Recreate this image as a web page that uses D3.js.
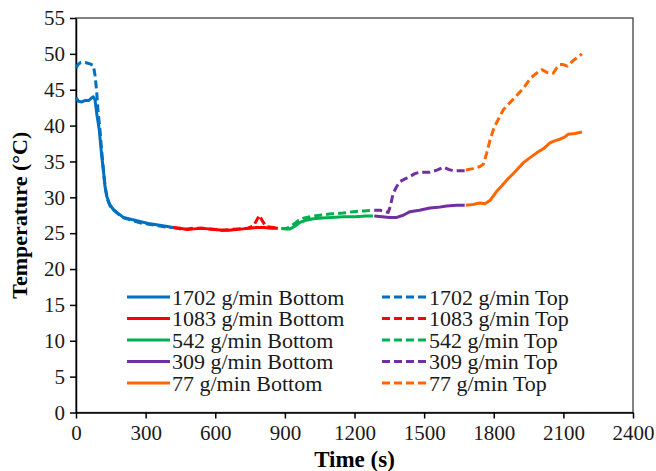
<!DOCTYPE html>
<html lang="en">
<head>
    <meta charset="UTF-8">
    <title>Temperature vs Time</title>
    <script src="https://cdn.jsdelivr.net/npm/d3@7"></script>
    <style>
        body { margin: 0; background: #fff; }
        text { font-family: "Liberation Serif", "Times New Roman", serif; }
    </style>
</head>
<body>
<script>
    // flow rates and colours
    var rates = ["1702", "1083", "542", "309", "77"];
    var colors = ["#0070C0", "#FF0000", "#00B050", "#7030A0", "#FF6600"];

    var xTicks = [0, 300, 600, 900, 1200, 1500, 1800, 2100, 2400];
    var yTicks = [0, 5, 10, 15, 20, 25, 30, 35, 40, 45, 50, 55];

    // [time (s), temperature (°C)]
    var bottom1702 = [[0,43.9],[10,43.4],[25,43.3],[40,43.5],[55,43.5],[65,43.8],[75,44.0],[82,43.6],[90,41.5],[100,39.5],[110,36],[118,33.8],[125,31.5],[132,30.2],[145,29],[161,28.3],[180,27.8],[204,27.2],[240,26.9],[280,26.6],[320,26.3],[360,26.1],[400,25.9],[418,25.8]];
    var top1702 = [[0,48],[8,48.5],[20,48.8],[40,48.8],[60,48.6],[75,48.4],[82,47],[89,44.8],[95,42],[103,39.5],[112,36],[120,33],[128,31],[138,29.5],[150,28.6],[170,28],[200,27.2],[240,26.8],[280,26.4],[320,26.2],[360,26.0],[400,25.8],[418,25.8]];
    var bottom1083 = [[418,25.8],[450,25.7],[480,25.5],[510,25.6],[540,25.7],[570,25.6],[600,25.5],[630,25.4],[660,25.4],[690,25.5],[720,25.6],[750,25.7],[780,25.8],[810,25.8],[840,25.7],[870,25.7]];
    var top1083 = [[418,25.8],[450,25.6],[480,25.6],[510,25.7],[540,25.7],[570,25.6],[600,25.5],[630,25.4],[660,25.5],[700,25.6],[740,25.7],[765,26.0],[790,27.5],[805,26.6],[820,25.9],[850,25.8],[870,25.7]];
    var bottom542 = [[885,25.7],[900,25.6],[922,25.6],[945,26.0],[965,26.5],[990,26.8],[1022,27.0],[1060,27.1],[1100,27.2],[1150,27.3],[1200,27.3],[1250,27.4],[1280,27.4]];
    var top542 = [[885,25.6],[910,25.7],[940,26.3],[960,26.8],[980,27.1],[1010,27.3],[1051,27.5],[1100,27.7],[1150,27.8],[1195,28.0],[1240,28.1],[1280,28.2]];
    var bottom309 = [[1285,27.4],[1320,27.3],[1350,27.2],[1382,27.2],[1410,27.5],[1439,28.0],[1480,28.2],[1525,28.5],[1560,28.6],[1597,28.8],[1640,28.9],[1675,28.9]];
    var top309 = [[1285,28.2],[1310,28.2],[1330,28.0],[1345,27.9],[1355,28.8],[1366,30.5],[1380,31.4],[1396,32.2],[1420,32.6],[1439,32.9],[1460,33.3],[1482,33.5],[1525,33.5],[1555,33.8],[1583,34.2],[1605,33.9],[1626,33.7],[1675,33.7]];
    var bottom77 = [[1680,28.9],[1710,29.0],[1741,29.2],[1762,29.1],[1785,29.6],[1812,30.8],[1835,31.6],[1856,32.4],[1890,33.5],[1927,34.8],[1955,35.5],[1985,36.2],[2015,36.8],[2042,37.6],[2065,37.9],[2085,38.1],[2105,38.4],[2121,38.8],[2150,38.9],[2180,39.1]];
    var top77 = [[1680,33.8],[1710,34.0],[1741,34.3],[1755,34.6],[1770,36.2],[1784,38.0],[1798,39.4],[1812,40.4],[1841,42.2],[1870,43.2],[1899,44.2],[1930,45.3],[1956,46.5],[1980,47.2],[2007,47.8],[2030,47.4],[2056,47.3],[2070,48.0],[2085,48.5],[2100,48.5],[2117,48.3],[2140,49.0],[2160,49.5],[2180,50.0]];

    var bottoms = [bottom1702, bottom1083, bottom542, bottom309, bottom77];
    var tops = [top1702, top1083, top542, top309, top77];

    var width = 656, height = 471;
    var margin = {top: 18, right: 23, bottom: 58.5, left: 76};

    var svg = d3.select("body").append("svg")
        .attr("width", width)
        .attr("height", height);

    var x = d3.scaleLinear().domain([0, 2400]).range([margin.left, width - margin.right]);
    var y = d3.scaleLinear().domain([0, 55]).range([height - margin.bottom, margin.top]);

    // plot frame
    svg.append("rect")
        .attr("x", margin.left)
        .attr("y", margin.top)
        .attr("width", width - margin.left - margin.right)
        .attr("height", height - margin.top - margin.bottom)
        .attr("fill", "none")
        .attr("stroke", "#404040")
        .attr("stroke-width", 1.3);

    var xAxis = svg.append("g")
        .attr("transform", "translate(0," + (height - margin.bottom) + ")")
        .call(d3.axisBottom(x).tickValues(xTicks).tickFormat(d3.format("d"))
            .tickSize(6).tickPadding(7).tickSizeOuter(0));

    var yAxis = svg.append("g")
        .attr("transform", "translate(" + margin.left + ",0)")
        .call(d3.axisLeft(y).tickValues(yTicks).tickFormat(d3.format("d"))
            .tickSize(6).tickPadding(5).tickSizeOuter(0));

    [xAxis, yAxis].forEach(function (g) {
        g.attr("font-family", null).attr("font-size", null);
        g.selectAll("path, line").attr("stroke", "#000").attr("stroke-width", 1.5);
        g.selectAll("text")
            .attr("fill", "#1a1a1a")
            .style("font-size", "21px");
    });

    // axis titles
    svg.append("text")
        .attr("x", (margin.left + width - margin.right) / 2)
        .attr("y", 467)
        .attr("text-anchor", "middle")
        .style("font-size", "23px")
        .style("font-weight", "bold")
        .text("Time (s)");

    svg.append("text")
        .attr("transform", "translate(27," + ((margin.top + height - margin.bottom) / 2) + ") rotate(-90)")
        .attr("text-anchor", "middle")
        .style("font-size", "22px")
        .style("font-weight", "bold")
        .text("Temperature (°C)");

    var line = d3.line()
        .x(function (d) { return x(d[0]); })
        .y(function (d) { return y(d[1]); });

    var plot = svg.append("g");

    bottoms.forEach(function (s, i) {
        plot.append("path")
            .datum(s)
            .attr("d", line)
            .attr("fill", "none")
            .attr("stroke", colors[i])
            .attr("stroke-width", 3)
            .attr("stroke-linejoin", "round");
    });

    tops.forEach(function (s, i) {
        plot.append("path")
            .datum(s)
            .attr("d", line)
            .attr("fill", "none")
            .attr("stroke", colors[i])
            .attr("stroke-width", 3)
            .attr("stroke-dasharray", "8,4")
            .attr("stroke-linejoin", "round");
    });

    // legend, two columns
    var legend = svg.append("g");
    var rowY = [297, 318.5, 340, 361.5, 383];

    rates.forEach(function (r, i) {
        legend.append("line")
            .attr("x1", 127).attr("x2", 170)
            .attr("y1", rowY[i]).attr("y2", rowY[i])
            .attr("stroke", colors[i]).attr("stroke-width", 3);
        legend.append("text")
            .attr("x", 172).attr("y", rowY[i])
            .attr("dy", "0.35em")
            .attr("fill", "#1a1a1a")
            .style("font-size", "22px")
            .text(r + " g/min Bottom");

        legend.append("line")
            .attr("x1", 382).attr("x2", 427)
            .attr("y1", rowY[i]).attr("y2", rowY[i])
            .attr("stroke", colors[i]).attr("stroke-width", 3)
            .attr("stroke-dasharray", "8,4");
        legend.append("text")
            .attr("x", 429).attr("y", rowY[i])
            .attr("dy", "0.35em")
            .attr("fill", "#1a1a1a")
            .style("font-size", "22px")
            .text(r + " g/min Top");
    });
</script>
</body>
</html>
